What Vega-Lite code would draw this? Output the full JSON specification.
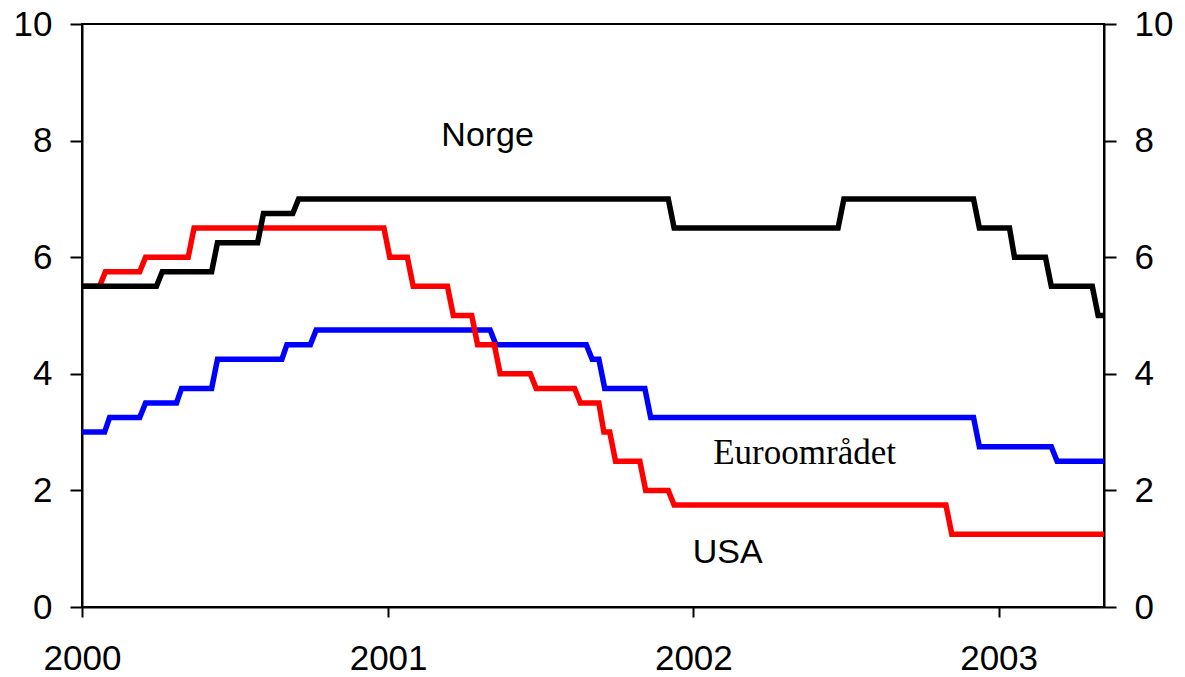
{
  "$schema": "https://vega.github.io/schema/vega-lite/v6.json",
  "width": 1022,
  "height": 583,
  "autosize": {"type": "none"},
  "padding": {"left": 82, "top": 24, "right": 81, "bottom": 70},
  "background": "white",
  "config": {
    "view": {"stroke": "black", "strokeWidth": 2},
    "axis": {
      "grid": false,
      "domainColor": "black",
      "domainWidth": 2,
      "tickColor": "black",
      "tickWidth": 2,
      "labelColor": "black",
      "labelFont": "Liberation Sans",
      "labelFontSize": 35,
      "title": null
    }
  },
  "datasets": {
    "rates": [
      {"series": "Euroområdet", "date": "2000-01-01", "rate": 3.0},
      {"series": "Euroområdet", "date": "2000-01-28", "rate": 3.0},
      {"series": "Euroområdet", "date": "2000-02-03", "rate": 3.25},
      {"series": "Euroområdet", "date": "2000-03-10", "rate": 3.25},
      {"series": "Euroområdet", "date": "2000-03-17", "rate": 3.5},
      {"series": "Euroområdet", "date": "2000-04-23", "rate": 3.5},
      {"series": "Euroområdet", "date": "2000-04-29", "rate": 3.75},
      {"series": "Euroområdet", "date": "2000-06-04", "rate": 3.75},
      {"series": "Euroområdet", "date": "2000-06-11", "rate": 4.25},
      {"series": "Euroområdet", "date": "2000-08-27", "rate": 4.25},
      {"series": "Euroområdet", "date": "2000-09-02", "rate": 4.5},
      {"series": "Euroområdet", "date": "2000-09-30", "rate": 4.5},
      {"series": "Euroområdet", "date": "2000-10-07", "rate": 4.75},
      {"series": "Euroområdet", "date": "2001-05-03", "rate": 4.75},
      {"series": "Euroområdet", "date": "2001-05-10", "rate": 4.5},
      {"series": "Euroområdet", "date": "2001-08-26", "rate": 4.5},
      {"series": "Euroområdet", "date": "2001-09-02", "rate": 4.25},
      {"series": "Euroområdet", "date": "2001-09-10", "rate": 4.25},
      {"series": "Euroområdet", "date": "2001-09-17", "rate": 3.75},
      {"series": "Euroområdet", "date": "2001-11-04", "rate": 3.75},
      {"series": "Euroområdet", "date": "2001-11-11", "rate": 3.25},
      {"series": "Euroområdet", "date": "2002-12-02", "rate": 3.25},
      {"series": "Euroområdet", "date": "2002-12-09", "rate": 2.75},
      {"series": "Euroområdet", "date": "2003-03-05", "rate": 2.75},
      {"series": "Euroområdet", "date": "2003-03-12", "rate": 2.5},
      {"series": "Euroområdet", "date": "2003-05-07", "rate": 2.5},
      {"series": "USA", "date": "2000-01-01", "rate": 5.5},
      {"series": "USA", "date": "2000-01-22", "rate": 5.5},
      {"series": "USA", "date": "2000-01-29", "rate": 5.75},
      {"series": "USA", "date": "2000-03-10", "rate": 5.75},
      {"series": "USA", "date": "2000-03-17", "rate": 6.0},
      {"series": "USA", "date": "2000-05-07", "rate": 6.0},
      {"series": "USA", "date": "2000-05-14", "rate": 6.5},
      {"series": "USA", "date": "2000-12-27", "rate": 6.5},
      {"series": "USA", "date": "2001-01-03", "rate": 6.0},
      {"series": "USA", "date": "2001-01-24", "rate": 6.0},
      {"series": "USA", "date": "2001-01-31", "rate": 5.5},
      {"series": "USA", "date": "2001-03-13", "rate": 5.5},
      {"series": "USA", "date": "2001-03-20", "rate": 5.0},
      {"series": "USA", "date": "2001-04-11", "rate": 5.0},
      {"series": "USA", "date": "2001-04-18", "rate": 4.5},
      {"series": "USA", "date": "2001-05-08", "rate": 4.5},
      {"series": "USA", "date": "2001-05-15", "rate": 4.0},
      {"series": "USA", "date": "2001-06-20", "rate": 4.0},
      {"series": "USA", "date": "2001-06-27", "rate": 3.75},
      {"series": "USA", "date": "2001-08-12", "rate": 3.75},
      {"series": "USA", "date": "2001-08-19", "rate": 3.5},
      {"series": "USA", "date": "2001-09-10", "rate": 3.5},
      {"series": "USA", "date": "2001-09-16", "rate": 3.0},
      {"series": "USA", "date": "2001-09-23", "rate": 3.0},
      {"series": "USA", "date": "2001-09-30", "rate": 2.5},
      {"series": "USA", "date": "2001-10-29", "rate": 2.5},
      {"series": "USA", "date": "2001-11-05", "rate": 2.0},
      {"series": "USA", "date": "2001-12-02", "rate": 2.0},
      {"series": "USA", "date": "2001-12-09", "rate": 1.75},
      {"series": "USA", "date": "2002-10-30", "rate": 1.75},
      {"series": "USA", "date": "2002-11-06", "rate": 1.25},
      {"series": "USA", "date": "2003-05-07", "rate": 1.25},
      {"series": "Norge", "date": "2000-01-01", "rate": 5.5},
      {"series": "Norge", "date": "2000-03-30", "rate": 5.5},
      {"series": "Norge", "date": "2000-04-06", "rate": 5.75},
      {"series": "Norge", "date": "2000-06-04", "rate": 5.75},
      {"series": "Norge", "date": "2000-06-11", "rate": 6.25},
      {"series": "Norge", "date": "2000-07-29", "rate": 6.25},
      {"series": "Norge", "date": "2000-08-05", "rate": 6.75},
      {"series": "Norge", "date": "2000-09-09", "rate": 6.75},
      {"series": "Norge", "date": "2000-09-16", "rate": 7.0},
      {"series": "Norge", "date": "2001-12-02", "rate": 7.0},
      {"series": "Norge", "date": "2001-12-09", "rate": 6.5},
      {"series": "Norge", "date": "2002-06-23", "rate": 6.5},
      {"series": "Norge", "date": "2002-06-30", "rate": 7.0},
      {"series": "Norge", "date": "2002-12-02", "rate": 7.0},
      {"series": "Norge", "date": "2002-12-09", "rate": 6.5},
      {"series": "Norge", "date": "2003-01-14", "rate": 6.5},
      {"series": "Norge", "date": "2003-01-20", "rate": 6.0},
      {"series": "Norge", "date": "2003-02-26", "rate": 6.0},
      {"series": "Norge", "date": "2003-03-05", "rate": 5.5},
      {"series": "Norge", "date": "2003-04-23", "rate": 5.5},
      {"series": "Norge", "date": "2003-04-30", "rate": 5.0},
      {"series": "Norge", "date": "2003-05-07", "rate": 5.0}
    ],
    "labels": [
      {"label": "Norge", "date": "2001-04-30", "value": 7.9, "face": "sans"},
      {"label": "USA", "date": "2002-02-11", "value": 0.75, "face": "sans"},
      {"label": "Euroområdet", "date": "2002-05-14", "value": 2.46, "face": "serif"}
    ]
  },
  "layer": [
    {
      "data": {"name": "rates"},
      "transform": [{"filter": "datum.series === 'Euroområdet'"}],
      "mark": {"type": "line", "color": "#0000FF", "strokeWidth": 5.5, "strokeCap": "round", "clip": true},
      "encoding": {
        "x": {
          "field": "date", "type": "temporal",
          "scale": {"type": "utc", "domain": [{"year": 2000, "month": 1, "date": 1, "utc": true}, {"year": 2003, "month": 5, "date": 7, "utc": true}]},
          "axis": {
            "values": [
              {"year": 2000, "month": 1, "date": 1, "utc": true},
              {"year": 2001, "month": 1, "date": 1, "utc": true},
              {"year": 2002, "month": 1, "date": 1, "utc": true},
              {"year": 2003, "month": 1, "date": 1, "utc": true}
            ],
            "format": "%Y", "formatType": "utc",
            "tickSize": 10, "labelPadding": 24, "labelFlush": false, "labelOverlap": false
          }
        },
        "y": {
          "field": "rate", "type": "quantitative",
          "scale": {"domain": [0, 10], "nice": false},
          "axis": {"orient": "left", "values": [0, 2, 4, 6, 8, 10], "tickSize": 12, "labelPadding": 18}
        }
      }
    },
    {
      "data": {"name": "rates"},
      "transform": [{"filter": "datum.series === 'USA'"}],
      "mark": {"type": "line", "color": "#FF0000", "strokeWidth": 5.5, "strokeCap": "round", "clip": true},
      "encoding": {
        "x": {"field": "date", "type": "temporal"},
        "y": {"field": "rate", "type": "quantitative", "axis": null}
      }
    },
    {
      "data": {"name": "rates"},
      "transform": [{"filter": "datum.series === 'Norge'"}],
      "mark": {"type": "line", "color": "#000000", "strokeWidth": 5.5, "strokeCap": "round", "clip": true},
      "encoding": {
        "x": {"field": "date", "type": "temporal"},
        "y": {"field": "rate", "type": "quantitative", "axis": null}
      }
    },
    {
      "data": {"name": "labels"},
      "transform": [{"filter": "datum.face === 'sans'"}],
      "mark": {"type": "text", "font": "Liberation Sans", "fontSize": 34, "color": "black", "align": "center", "baseline": "alphabetic"},
      "encoding": {
        "x": {"field": "date", "type": "temporal"},
        "y": {
          "field": "value", "type": "quantitative",
          "axis": {"orient": "right", "values": [0, 2, 4, 6, 8, 10], "tickSize": 12, "labelPadding": 18}
        },
        "text": {"field": "label"}
      }
    },
    {
      "data": {"name": "labels"},
      "transform": [{"filter": "datum.face === 'serif'"}],
      "mark": {"type": "text", "font": "Liberation Serif", "fontSize": 35, "color": "black", "align": "center", "baseline": "alphabetic"},
      "encoding": {
        "x": {"field": "date", "type": "temporal"},
        "y": {"field": "value", "type": "quantitative", "axis": null},
        "text": {"field": "label"}
      }
    }
  ],
  "resolve": {"axis": {"y": "independent"}}
}
